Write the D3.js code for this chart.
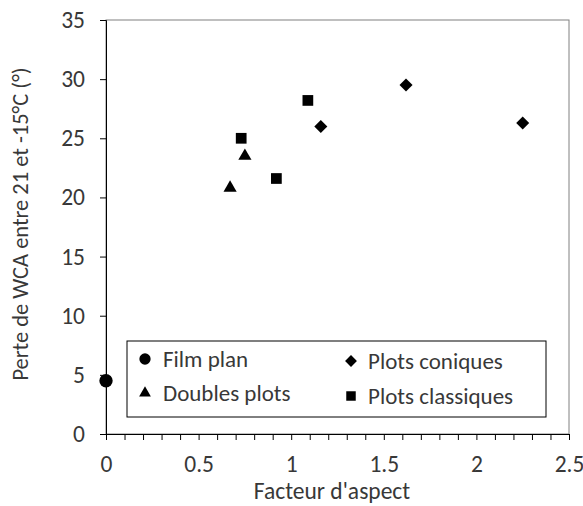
<!DOCTYPE html>
<html>
<head>
<meta charset="utf-8">
<script src="https://cdn.jsdelivr.net/npm/d3@7"></script>
<style>
  html, body { margin: 0; padding: 0; background: #fff; }
  svg { display: block; font-family: Carlito, Lato, "Open Sans", sans-serif; }
</style>
</head>
<body>
<svg id="chart" width="583" height="506"></svg>
<script>
/* ---------- data ---------- */
const seriesNames = ['Film plan', 'Doubles plots', 'Plots coniques', 'Plots classiques'];
const filmPlan = [[0, 4.5]];
const doublesPlots = [[0.67, 20.8], [0.75, 23.5]];
const plotsConiques = [[1.16, 26.0], [1.62, 29.5], [2.25, 26.3]];
const plotsClassiques = [[0.73, 25.0], [0.92, 21.6], [1.09, 28.2]];
const xTicks = [0, 0.5, 1, 1.5, 2, 2.5];
const yTicks = [0, 5, 10, 15, 20, 25, 30, 35];

/* ---------- layout ---------- */
const W = 583, H = 506;
const m = { top: 20, right: 14, bottom: 72, left: 106 };
const ink = '#383838';

const svg = d3.select('#chart');

const x = d3.scaleLinear().domain([0, 2.5]).range([m.left, W - m.right]);
const y = d3.scaleLinear().domain([0, 35]).range([H - m.bottom, m.top]);

// plot area frame (top/right grey)
svg.append('rect')
  .attr('x', x(0)).attr('y', y(35))
  .attr('width', x(2.5) - x(0)).attr('height', y(0) - y(35))
  .attr('fill', 'none').attr('stroke', '#808080').attr('stroke-width', 1);

// x axis: minor ticks every 0.1, labels every 0.5
const isMajor = d => xTicks.some(t => Math.abs(t - d) < 1e-9);
const xAxis = svg.append('g')
  .attr('transform', `translate(0,${y(0)})`)
  .call(d3.axisBottom(x).tickValues(d3.range(0, 26).map(i => i / 10)).tickSize(6)
    .tickFormat(d => isMajor(d) ? String(+d.toFixed(1)) : ''));
xAxis.select('.domain').attr('stroke', '#000');
xAxis.selectAll('.tick line').attr('stroke', '#000');
xAxis.selectAll('.tick text').attr('font-size', 23.5).attr('fill', ink).attr('y', 38).attr('dy', 0)
  .attr('font-family', 'Carlito, Lato, sans-serif');

// y axis
const yAxis = svg.append('g')
  .attr('transform', `translate(${x(0)},0)`)
  .call(d3.axisLeft(y).tickValues(yTicks).tickSize(6));
yAxis.select('.domain').attr('stroke', '#000');
yAxis.selectAll('.tick line').attr('stroke', '#000');
yAxis.selectAll('.tick text').attr('font-size', 23.5).attr('fill', ink).attr('x', -21)
  .attr('font-family', 'Carlito, Lato, sans-serif');

// axis titles
svg.append('text')
  .attr('x', 332).attr('y', 499)
  .attr('text-anchor', 'middle').attr('font-size', 23.5).attr('fill', ink)
  .text("Facteur d'aspect");

svg.append('text')
  .attr('transform', `translate(28,224) rotate(-90)`)
  .attr('text-anchor', 'middle').attr('font-size', 22.5).attr('fill', ink)
  .text('Perte de WCA entre 21 et -15°C (°)');

/* ---------- markers ---------- */
const symbols = {
  'Film plan':        { type: d3.symbolCircle,   size: 140, rot: 0 },
  'Doubles plots':    { type: d3.symbolTriangle, size: 75,  rot: 0 },
  'Plots coniques':   { type: d3.symbolSquare,   size: 85,  rot: 45 },
  'Plots classiques': { type: d3.symbolSquare,   size: 115, rot: 0 }
};
const allSeries = [filmPlan, doublesPlots, plotsConiques, plotsClassiques];

allSeries.forEach((pts, i) => {
  const s = symbols[seriesNames[i]];
  svg.append('g').selectAll('path')
    .data(pts)
    .join('path')
    .attr('transform', d => `translate(${x(d[0])},${y(d[1])}) rotate(${s.rot})`)
    .attr('d', d3.symbol().type(s.type).size(s.size))
    .attr('fill', '#000');
});

/* ---------- legend ---------- */
const lg = svg.append('g');
lg.append('rect')
  .attr('x', 127).attr('y', 341).attr('width', 419).attr('height', 76)
  .attr('fill', '#fff').attr('stroke', '#000').attr('stroke-width', 1);

const legendPos = [
  { name: 'Film plan',        mx: 145, tx: 163, ty: 359 },
  { name: 'Doubles plots',    mx: 145, tx: 163, ty: 393 },
  { name: 'Plots coniques',   mx: 351, tx: 368, ty: 361 },
  { name: 'Plots classiques', mx: 351, tx: 368, ty: 396 }
];
const legendSize = { 'Film plan': 100, 'Doubles plots': 60, 'Plots coniques': 70, 'Plots classiques': 90 };

legendPos.forEach(p => {
  const s = symbols[p.name];
  lg.append('path')
    .attr('transform', `translate(${p.mx},${p.ty}) rotate(${s.rot})`)
    .attr('d', d3.symbol().type(s.type).size(legendSize[p.name]))
    .attr('fill', '#000');
  lg.append('text')
    .attr('x', p.tx).attr('y', p.ty).attr('dy', '0.36em')
    .attr('font-size', 23).attr('fill', ink)
    .text(p.name);
});
</script>
</body>
</html>
